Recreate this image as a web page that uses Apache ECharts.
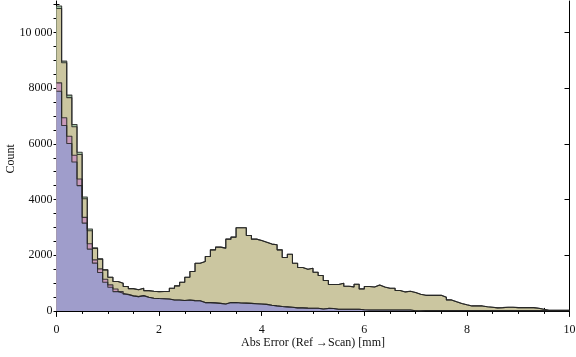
<!DOCTYPE html>
<html>
<head>
<meta charset="utf-8">
<script src="https://cdn.jsdelivr.net/npm/echarts@6/dist/echarts.min.js"></script>
<style>
html,body{margin:0;padding:0;background:#fff;}
#c{width:576px;height:357px;}
</style>
</head>
<body>
<div id="c"></div>
<script>
// Histogram bins: width 0.1 starting at 0
var binStart = 0;
var binWidth = 0.1;

var greenVals = [10950, 8970, 7750, 6696, 5700, 4090, 2940, 2265, 1870, 1475,
  1210, 1055, 995, 875, 800, 760, 815, 730, 705, 695,
  700, 700, 815, 900, 1030, 1212, 1414, 1714, 1774, 1954,
  2194, 2290, 2255, 2578, 2650, 2985, 2985, 2710, 2578, 2530,
  2470, 2400, 2374, 2194, 1918, 2038, 1714, 1559, 1499, 1535,
  1391, 1271, 1091, 947, 947, 995, 887, 863, 959, 791,
  875, 860, 930, 860, 815, 815, 731, 683, 705, 659,
  599, 560, 560, 560, 560, 491, 396, 330, 265, 222,
  180, 180, 180, 150, 132, 110, 120, 132, 132, 120,
  120, 120, 120, 96, 60, 25, 22, 20, 20, 20];

var oliveVals = [10860, 8915, 7660, 6613, 5615, 4030, 2880, 2240, 1860, 1475,
  1210, 1055, 995, 875, 800, 760, 815, 730, 705, 695,
  700, 700, 815, 900, 1030, 1212, 1414, 1714, 1774, 1954,
  2194, 2290, 2255, 2578, 2650, 2985, 2985, 2710, 2578, 2530,
  2470, 2400, 2374, 2194, 1918, 2038, 1714, 1559, 1499, 1535,
  1391, 1271, 1091, 947, 947, 995, 887, 863, 959, 791,
  875, 860, 930, 860, 815, 815, 731, 683, 705, 659,
  599, 560, 560, 560, 560, 491, 396, 330, 265, 222,
  180, 180, 180, 150, 132, 110, 120, 132, 132, 120,
  120, 120, 120, 96, 60, 25, 22, 20, 20, 20];

var pinkVals = [8190, 6935, 6275, 5590, 4740, 3360, 2410, 1835, 1510, 1140,
  935, 790, 695, 600, 540, 515, 550, 490, 455, 445,
  440, 430, 395, 395, 372, 395, 370, 365, 300, 300,
  290, 270, 250, 300, 300, 285, 280, 270, 260, 250,
  235, 205, 180, 160, 145, 130, 110, 108, 100, 96,
  96, 72, 90, 85, 60, 60, 60, 60, 60, 40,
  36, 36, 36, 36, 36, 36, 36, 36, 36, 5,
  2, 12, 12, 12, 12, 12, 12, 12, 12, 12,
  12, 12, 12, 12, 12, 12, 12, 12, 12, 12,
  12, 12, 12, 12, 12, 12, 12, 12, 12, 12];

var blueVals = [7890, 6660, 6010, 5350, 4500, 3155, 2220, 1715, 1380, 1030,
  850, 695, 635, 585, 540, 515, 550, 490, 455, 445,
  440, 430, 395, 395, 372, 395, 370, 365, 300, 300,
  290, 270, 250, 300, 300, 285, 280, 270, 260, 250,
  235, 205, 180, 160, 145, 130, 110, 108, 100, 96,
  96, 72, 90, 85, 60, 60, 60, 60, 60, 40,
  36, 36, 36, 36, 36, 36, 36, 36, 36, 5,
  2, 12, 12, 12, 12, 12, 12, 12, 12, 12,
  12, 12, 12, 12, 12, 12, 12, 12, 12, 12,
  12, 12, 12, 12, 12, 12, 12, 12, 12, 12];

var xMajorTicks = [0, 2, 4, 6, 8, 10];
var yMajorTicks = [0, 2000, 4000, 6000, 8000, 10000];
var yMinorTicks = [0, 500, 1000, 1500, 2000, 2500, 3000, 3500, 4000, 4500, 5000, 5500, 6000, 6500, 7000, 7500, 8000, 8500, 9000, 9500, 10000, 10500, 11000];

var seriesColors = {
  green: '#a3c6a3',
  olive: '#cbc6a0',
  pink: '#c99bbb',
  blue: '#9f9dcb'
};

function stepData(vals) {
  var d = [];
  for (var i = 0; i < vals.length; i++) d.push([binStart + i * binWidth, vals[i]]);
  d.push([binStart + vals.length * binWidth, vals[vals.length - 1]]);
  return d;
}

var FONT = '"Liberation Serif", "DejaVu Serif", serif';
var YMIN = -200, YMAX = 11130;

function mkSeries(name, vals, color) {
  return {
    name: name, type: 'line', step: 'end', data: stepData(vals),
    xAxisIndex: 0, yAxisIndex: 0,
    symbol: 'none', silent: true,
    lineStyle: { color: 'rgba(35,35,35,0.85)', width: 1.1 },
    areaStyle: { color: color, opacity: 1 }
  };
}

var chart = echarts.init(document.getElementById('c'), null, { renderer: 'canvas' });
var axisLineStyle = { color: '#000', width: 1 };
chart.setOption({
  animation: false,
  backgroundColor: '#fff',
  grid: { left: 56.5, right: 6.5, top: 1, bottom: 40.5, containLabel: false, outerBoundsMode: 'none' },
  xAxis: [
    {
      type: 'value', position: 'bottom', min: 0, max: 10, interval: 2,
      axisLine: { show: true, lineStyle: axisLineStyle },
      axisTick: { show: true, inside: true, length: 5, lineStyle: { color: '#000' } },
      minorTick: { show: true, splitNumber: 4, length: 3, lineStyle: { color: '#000' } },
      axisLabel: { show: true, margin: 7, fontFamily: FONT, fontSize: 12, color: '#111' },
      splitLine: { show: false }, minorSplitLine: { show: false },
      name: 'Abs Error (Ref \u2192Scan) [mm]', nameLocation: 'middle', nameGap: 20, nameMoveOverlap: false,
      nameTextStyle: { fontFamily: FONT, fontSize: 12, color: '#111' }
    },
    {
      type: 'value', position: 'top', min: 0, max: 10, interval: 2,
      axisLine: { show: true, lineStyle: axisLineStyle },
      axisTick: { show: true, inside: true, length: 5, lineStyle: { color: '#000' } },
      minorTick: { show: true, splitNumber: 4, length: 3, lineStyle: { color: '#000' } },
      axisLabel: { show: false }, splitLine: { show: false }
    }
  ],
  yAxis: [
    {
      type: 'value', position: 'left', min: YMIN, max: YMAX,
      axisLine: { show: true, onZero: false, lineStyle: axisLineStyle },
      axisTick: { show: true, inside: true, length: 5, customValues: yMajorTicks, lineStyle: { color: '#000' } },
      axisLabel: {
        show: true, customValues: yMajorTicks, margin: 4, fontFamily: FONT, fontSize: 12, color: '#111',
        formatter: function (v) { return v >= 10000 ? (Math.floor(v / 1000) + ' ' + String(v % 1000).padStart(3, '0')) : String(v); }
      },
      splitLine: { show: false },
      name: 'Count', nameLocation: 'middle', nameGap: 40, nameRotate: 90, nameMoveOverlap: false,
      nameTextStyle: { fontFamily: FONT, fontSize: 12, color: '#111' }
    },
    {
      type: 'value', position: 'left', min: YMIN, max: YMAX,
      axisLine: { show: false },
      axisTick: { show: true, inside: true, length: 3, customValues: yMinorTicks, lineStyle: { color: '#000' } },
      axisLabel: { show: false }, splitLine: { show: false }
    },
    {
      type: 'value', position: 'right', min: YMIN, max: YMAX,
      axisLine: { show: true, onZero: false, lineStyle: axisLineStyle },
      axisTick: { show: true, inside: true, length: 5, customValues: yMajorTicks, lineStyle: { color: '#000' } },
      axisLabel: { show: false }, splitLine: { show: false }
    },
    {
      type: 'value', position: 'right', min: YMIN, max: YMAX,
      axisLine: { show: false },
      axisTick: { show: true, inside: true, length: 3, customValues: yMinorTicks, lineStyle: { color: '#000' } },
      axisLabel: { show: false }, splitLine: { show: false }
    }
  ],
  series: [
    mkSeries('green', greenVals, seriesColors.green),
    mkSeries('olive', oliveVals, seriesColors.olive),
    mkSeries('pink', pinkVals, seriesColors.pink),
    mkSeries('blue', blueVals, seriesColors.blue)
  ]
});
</script>
</body>
</html>
